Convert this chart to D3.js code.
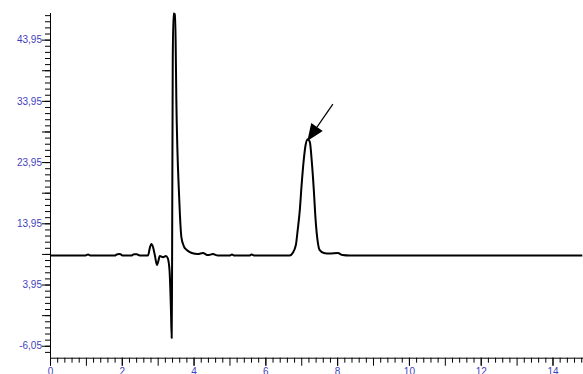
<!DOCTYPE html>
<html>
<head>
<meta charset="utf-8">
<script src="https://cdn.jsdelivr.net/npm/d3@7"></script>
<style>
  body { margin: 0; background: #fff; }
  svg { display: block; }
  .tick text { font-family: "Liberation Sans", Arial, sans-serif; font-size: 10px; fill: #3f3fc0; }
</style>
</head>
<body>
<div class="chart"></div>
<script>
// Chromatogram trace (time, signal)
var times = [0, 0.97, 1.06, 1.14, 1.80, 1.88, 1.95, 2.02, 2.28, 2.34, 2.42, 2.50,
  2.73, 2.78, 2.82, 2.87, 2.92, 2.98, 3.01, 3.06, 3.15, 3.23, 3.28, 3.33, 3.37, 3.39, 3.40,
  3.42, 3.44, 3.48, 3.50, 3.52, 3.55, 3.59, 3.62, 3.66, 3.73, 3.81, 3.95, 4.12, 4.26,
  4.40, 4.54, 4.68, 5.00, 5.07, 5.14, 5.55, 5.62, 5.70, 6.68, 6.76, 6.85, 6.90, 6.96,
  7.01, 7.07, 7.12, 7.18, 7.24, 7.29, 7.35, 7.40, 7.46, 7.51, 7.63, 7.79, 8.02, 8.15,
  8.35, 14.83];
var signal = [8.68, 8.68, 8.85, 8.68, 8.68, 8.90, 8.92, 8.68, 8.70, 8.90, 8.88, 8.68,
  8.68, 9.9, 10.56, 10.07, 8.76, 7.13, 7.6, 8.6, 8.4, 8.6, 8.27, 6.3, -0.2, -4.8, 4.68,
  40.6, 48.2, 48.1, 43.9, 34.07, 25.9, 19.4, 15.3, 11.7, 10.2, 9.6, 9.1, 8.92, 9.1,
  8.76, 8.92, 8.68, 8.68, 8.84, 8.68, 8.68, 8.84, 8.68, 8.68, 9.1, 10.4, 12.8, 16.1,
  20.2, 24.3, 26.7, 27.7, 27.2, 24.3, 19.4, 14.5, 10.9, 9.6, 9.1, 9.0, 9.1, 8.76,
  8.68, 8.68];

// tick labels
var xLabels = [0, 2, 4, 6, 8, 10, 12, 14];
var yLabels = [-6.05, 3.95, 13.95, 23.95, 33.95, 43.95];

// arrow pointing at second peak: [time, signal] of tail and tip
var arrowFrom = [7.88, 33.42];
var arrowTo = [7.17, 27.38];

var svgWidth = 583, svgHeight = 374;
var margin = { top: 13, right: 0, bottom: 16.3, left: 50 };
var width = svgWidth - margin.left - margin.right;
var height = svgHeight - margin.top - margin.bottom;

var svg = d3.select(".chart").append("svg")
  .attr("width", svgWidth)
  .attr("height", svgHeight)
  .append("g")
  .attr("transform", "translate(" + margin.left + "," + margin.top + ")");

var xScale = d3.scaleLinear().domain([0, 14.85]).range([0, width]);
var yScale = d3.scaleLinear().domain([-8.0, 48.3]).range([height, 0]);

// comma decimals, plain hyphen for negatives
var fmt = function(d) { return d3.format(".2f")(d).replace(".", ",").replace("\u2212", "-"); };

// minor ticks
var xMinor = d3.range(0, 75).map(function(i) { return i * 0.2; }).filter(function(v) { return Math.abs(v - Math.round(v)) > 0.01; });
var xMajor = d3.range(0, 15);
var yMinor = d3.range(-8, 48).map(function(k) { return k + 0.95; });
var yMid = [-1.05, 8.95, 18.95, 28.95, 38.95];

function plainAxis(axis) {
  return function(g) {
    g.call(axis);
    g.selectAll("text").remove();
    g.select(".domain").remove();
  };
}

svg.append("g").attr("transform", "translate(0," + height + ")")
  .call(plainAxis(d3.axisBottom(xScale).tickValues(xMinor).tickSize(5)));
svg.append("g").attr("transform", "translate(0," + height + ")")
  .call(plainAxis(d3.axisBottom(xScale).tickValues(xMajor).tickSize(8)));
var xAxis = svg.append("g").attr("transform", "translate(0," + height + ")")
  .call(d3.axisBottom(xScale).tickValues(xLabels).tickSize(8).tickPadding(2).tickFormat(d3.format("d")));
xAxis.select(".domain").attr("d", "M0,0.5H" + width);

svg.append("g").call(plainAxis(d3.axisLeft(yScale).tickValues(yMinor).tickSize(5)));
svg.append("g").call(plainAxis(d3.axisLeft(yScale).tickValues(yMid).tickSize(8)));
var yAxis = svg.append("g")
  .call(d3.axisLeft(yScale).tickValues(yLabels).tickSize(8).tickPadding(0).tickFormat(fmt));
yAxis.select(".domain").attr("d", "M0.5,0V" + height);

svg.selectAll(".tick line").attr("stroke", "#000");
svg.selectAll(".domain").attr("stroke", "#000");

// trace
var points = times.map(function(t, i) { return [t, signal[i]]; });
var line = d3.line()
  .x(function(d) { return xScale(d[0]); })
  .y(function(d) { return yScale(d[1]); })
  .curve(d3.curveMonotoneX);

svg.append("path")
  .datum(points)
  .attr("fill", "none")
  .attr("stroke", "#000")
  .attr("stroke-width", 2)
  .attr("stroke-linejoin", "round")
  .attr("d", line);

// arrow
var x1 = xScale(arrowFrom[0]), y1 = yScale(arrowFrom[1]);
var x2 = xScale(arrowTo[0]), y2 = yScale(arrowTo[1]);
var ang = Math.atan2(y2 - y1, x2 - x1);
var headLen = 17, headHalf = 7;
var bx = x2 - headLen * Math.cos(ang), by = y2 - headLen * Math.sin(ang);
svg.append("line")
  .attr("x1", x1).attr("y1", y1).attr("x2", bx).attr("y2", by)
  .attr("stroke", "#000").attr("stroke-width", 1.2);
svg.append("polygon")
  .attr("points", [
    [x2, y2],
    [bx + headHalf * Math.sin(ang), by - headHalf * Math.cos(ang)],
    [bx - headHalf * Math.sin(ang), by + headHalf * Math.cos(ang)]
  ].map(function(p) { return p.join(","); }).join(" "))
  .attr("fill", "#000");
</script>
</body>
</html>
